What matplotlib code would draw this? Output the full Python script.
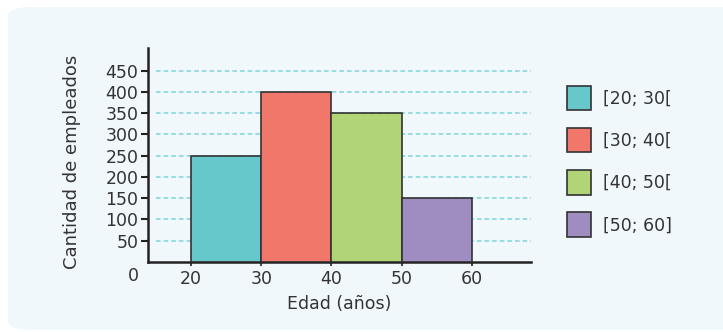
import matplotlib.pyplot as plt
from matplotlib.patches import FancyBboxPatch, Patch

# datos
bordes = [20, 30, 40, 50]
empleados = [250, 400, 350, 150]
etiquetas = ['[20; 30[', '[30; 40[', '[40; 50[', '[50; 60]']
colores = ['#67c8cc', '#f2776b', '#b1d477', '#9f8cc1']
ticks_x = [20, 30, 40, 50, 60]
ticks_y = [50, 100, 150, 200, 250, 300, 350, 400, 450]

plt.rcParams['font.family'] = ['DejaVu Sans']
texto = '#333333'
tam = 12.5

fig = plt.figure(figsize=(7.23, 3.32), dpi=100)
fig.patch.set_facecolor('white')

# fondo del recuadro
fondo = FancyBboxPatch((8 / 723, 2 / 332), 760 / 723, 323 / 332,
                       boxstyle='round,pad=0,rounding_size=0.03',
                       transform=fig.transFigure, facecolor='#f1f8fb',
                       edgecolor='none', zorder=-10)
fig.patches.append(fondo)

ax = fig.add_axes([148 / 723, 1 - 262 / 332, 383 / 723, 214 / 332])
ax.set_zorder(2)
ax.set_facecolor('none')

ax.bar(bordes, empleados, width=10, align='edge', color=colores,
       edgecolor='#333333', linewidth=1.2, zorder=3)

for v in ticks_y:
    ax.plot([15, 68.4], [v, v], color='#7fd3dc', linestyle=(0, (3, 2)),
            linewidth=1.1, zorder=1)

ax.set_xlim(13.88, 68.4)
ax.set_ylim(0, 503)
ax.set_xticks(ticks_x)
ax.set_yticks(ticks_y)
ax.tick_params(axis='y', direction='out', length=5, width=1.5, colors='#222222',
               labelcolor=texto, labelsize=tam, pad=2)
ax.tick_params(axis='x', direction='out', length=3, width=1.2, colors='#222222',
               labelcolor=texto, labelsize=tam, pad=3)

for s in ['top', 'right']:
    ax.spines[s].set_visible(False)
for s in ['left', 'bottom']:
    ax.spines[s].set_linewidth(1.8)
    ax.spines[s].set_color('#222222')

ax.text(-15 / 383, -14 / 214, '0', transform=ax.transAxes, ha='center',
        va='center', fontsize=tam, color=texto)

ax.set_xlabel('Edad (años)', fontsize=tam, color=texto, labelpad=5)
ax.set_ylabel('Cantidad de empleados', fontsize=13, color=texto)
ax.yaxis.set_label_coords(-67 / 383, 0.47)

manijas = [Patch(facecolor=c, edgecolor='#333333', linewidth=1.2) for c in colores]
leg = fig.legend(manijas, etiquetas, loc='upper left', bbox_to_anchor=(551 / 723, 1 - 70 / 332),
                 frameon=False, fontsize=tam, handlelength=1.4, handleheight=1.8,
                 labelspacing=1.02, handletextpad=0.7, labelcolor=texto)
leg.set_zorder(3)

fig.savefig('out.png', dpi=100)
